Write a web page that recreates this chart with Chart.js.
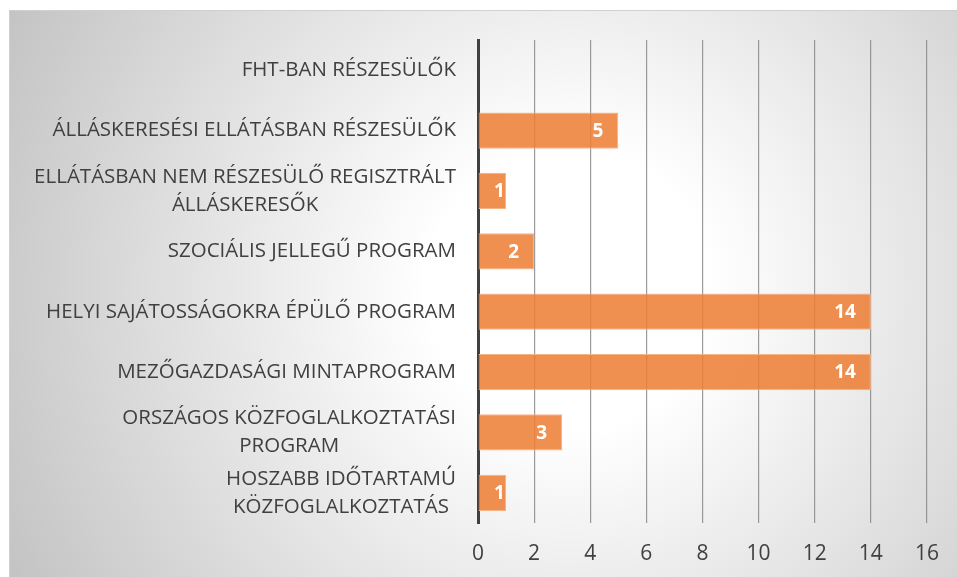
<!DOCTYPE html>
<html>
<head>
<meta charset="utf-8">
<script src="https://cdn.jsdelivr.net/npm/chart.js@4"></script>
<style>
  html, body { margin: 0; padding: 0; background: #ffffff; }
  #wrap { width: 957px; height: 577px; }
</style>
</head>
<body>
<div id="wrap"><canvas id="kozfogChart" width="957" height="577"></canvas></div>
<script>
  // kategóriák (felülről lefelé)
  const categories = [
    ['FHT-BAN RÉSZESÜLŐK'],
    ['ÁLLÁSKERESÉSI ELLÁTÁSBAN RÉSZESÜLŐK'],
    ['ELLÁTÁSBAN NEM RÉSZESÜLŐ REGISZTRÁLT', 'ÁLLÁSKERESŐK'],
    ['SZOCIÁLIS JELLEGŰ PROGRAM'],
    ['HELYI SAJÁTOSSÁGOKRA ÉPÜLŐ PROGRAM'],
    ['MEZŐGAZDASÁGI MINTAPROGRAM'],
    ['ORSZÁGOS KÖZFOGLALKOZTATÁSI', 'PROGRAM'],
    ['HOSZABB IDŐTARTAMÚ', 'KÖZFOGLALKOZTATÁS']
  ];
  // értékek
  const values = [0, 5, 1, 2, 14, 14, 3, 1];
  // tengely
  const axisMin = 0;
  const axisMax = 16;
  const axisStep = 2;

  const FONT = '"Open Sans", "Noto Sans", sans-serif';
  const TEXT = '#404040';

  // háttér: szürke-fehér sugaras átmenet a kereten belül
  const bgPlugin = {
    id: 'bgPlugin',
    beforeDraw(chart) {
      const c = chart.ctx;
      const x0 = 9, y0 = 10, w = chart.width - x0, h = chart.height - y0;
      const g = c.createRadialGradient(570, 290, 0, 570, 290, 640);
      g.addColorStop(0, '#ffffff');
      g.addColorStop(0.22, '#ffffff');
      g.addColorStop(1, '#c2c2c2');
      c.save();
      c.fillStyle = g;
      c.fillRect(x0, y0, w, h);
      c.strokeStyle = '#d0d0d0';
      c.lineWidth = 1;
      c.beginPath();
      c.moveTo(x0 + 0.5, chart.height);
      c.lineTo(x0 + 0.5, y0 + 0.5);
      c.lineTo(chart.width, y0 + 0.5);
      c.stroke();
      c.restore();
    }
  };

  // kategória feliratok: a több soros feliratok soronként középre igazítva
  const catLabels = {
    id: 'catLabels',
    afterDraw(chart) {
      const c = chart.ctx;
      const y = chart.scales.y;
      const right = chart.chartArea.left - 22;
      c.save();
      c.font = '20.5px ' + FONT;
      c.fillStyle = TEXT;
      c.textAlign = 'center';
      c.textBaseline = 'middle';
      const lh = 28;
      categories.forEach((lines, i) => {
        const py = y.getPixelForValue(i);
        const widest = Math.max(...lines.map(t => c.measureText(t).width));
        const cx = right - widest / 2;
        const top = py - (lines.length - 1) * lh / 2;
        lines.forEach((t, j) => c.fillText(t, cx, top + j * lh));
      });
      c.restore();
    }
  };

  // értékcímkék a sávok végén belül
  const valueLabels = {
    id: 'valueLabels',
    afterDatasetsDraw(chart) {
      const c = chart.ctx;
      const meta = chart.getDatasetMeta(0);
      const left = chart.scales.x.getPixelForValue(0);
      c.save();
      c.font = 'bold 19px ' + FONT;
      c.fillStyle = '#ffffff';
      c.textAlign = 'right';
      c.textBaseline = 'middle';
      meta.data.forEach((bar, i) => {
        const v = values[i];
        if (!v) return;
        const txt = String(v);
        const w = c.measureText(txt).width;
        const rx = Math.max(bar.x - 15, left + w + 16);
        c.fillText(txt, rx, bar.y + 1);
      });
      c.restore();
    }
  };

  const ctx = document.getElementById('kozfogChart').getContext('2d');

  const myChart = new Chart(ctx, {
    type: 'bar',
    data: {
      labels: categories,
      datasets: [{
        data: values,
        backgroundColor: 'rgba(237, 125, 49, 0.85)',
        borderColor: 'rgba(246, 180, 135, 1)',
        borderWidth: 1,
        borderSkipped: 'start',
        categoryPercentage: 1,
        barPercentage: 0.6
      }]
    },
    options: {
      indexAxis: 'y',
      responsive: false,
      animation: false,
      layout: { padding: { top: 40, right: 27, left: 0, bottom: 0 } },
      plugins: {
        legend: { display: false },
        tooltip: { enabled: false }
      },
      scales: {
        x: {
          min: axisMin,
          max: axisMax,
          ticks: {
            stepSize: axisStep,
            color: TEXT,
            font: { family: FONT, size: 21 },
            padding: 18
          },
          grid: {
            color: 'rgba(130, 130, 130, 0.8)',
            lineWidth: 1.2,
            drawTicks: false
          },
          border: { display: false },
          afterFit(scale) { scale.height = 54; }
        },
        y: {
          ticks: { color: 'transparent', font: { family: FONT, size: 18 } },
          grid: { display: false, drawTicks: false },
          border: { display: true, color: '#404040', width: 3 },
          afterFit(scale) { scale.width = 478; }
        }
      }
    },
    plugins: [bgPlugin, catLabels, valueLabels]
  });
</script>
</body>
</html>
